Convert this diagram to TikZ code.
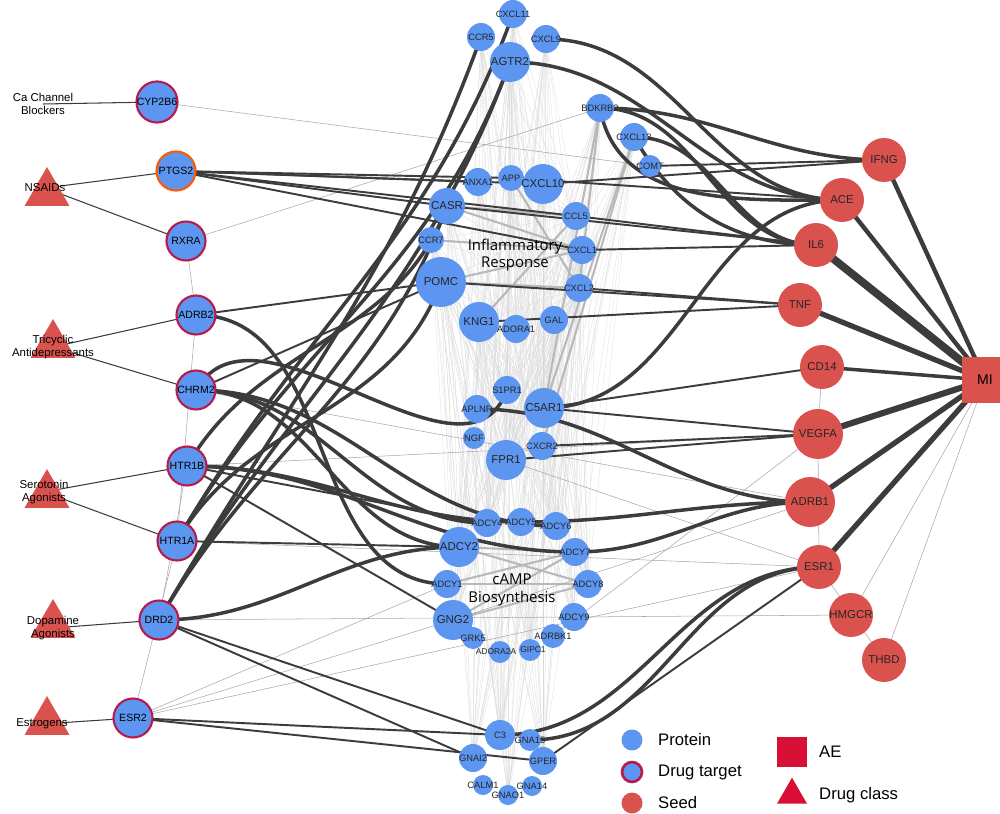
\documentclass[tikz,border=0pt]{standalone}
\usepackage{fontspec}
\setmainfont{Liberation Sans}
\newfontfamily\lblfont{Open Sans}
\usetikzlibrary{shapes.geometric,calc}
\definecolor{prot}{RGB}{92,150,240}
\definecolor{seedred}{RGB}{218,82,78}
\definecolor{tgt}{RGB}{185,25,75}
\definecolor{aered}{RGB}{215,15,55}
\definecolor{edge}{RGB}{60,60,60}
\tikzset{
  pnode/.style={circle,fill=prot,inner sep=0pt},
  ptext/.style={font=\fontsize{5.3}{6}\selectfont,text=black!85,inner sep=0pt},
  tnode/.style={pnode,draw=tgt,line width=1.2pt},
  snode/.style={circle,fill=seedred,inner sep=0pt,font=\fontsize{6.5}{7}\selectfont,text=black!85},
  dclass/.style={isosceles triangle,shape border rotate=90,fill=seedred,isosceles triangle apex angle=60,minimum width=0.9cm,inner sep=0pt},
  dlabel/.style={font=\fontsize{6.5}{7.8}\selectfont,align=center},
  mesh/.style={gray!30,line width=0.15pt},
  lnk/.style={edge,line width=1.1pt},
  thin lnk/.style={gray!70,line width=0.3pt},
  heavy/.style={edge,line width=2pt}
}
\begin{document}
\begin{tikzpicture}[x=0.02cm,y=-0.02cm]
\useasboundingbox (0,0) rectangle (1000,814);
% protein nodes
\foreach \n/\x/\y/\r in {AGTR2/510/62/20,CXCL11/513/14/14,CCR5/481/37/14,CXCL9/546/39/14,BDKRB2/600/108/14,CXCL13/634/137/14,COMT/650/166/11,ANXA1/478/182/14,APP/511/178/13,CXCL10/543/184/20,CASR/447/206/18,CCL5/576/216/14,CCR7/431/240/13,CXCL1/582/250/14,POMC/441/282/25,CXCL2/579/288/14,KNG1/479/322/20,ADORA1/516/329/14,GAL/554/320/14,S1PR1/507/390/14,APLNR/477/409/14,C5AR1/544/408/20,NGF/474/438/11,CXCR2/542/446/14,FPR1/506/460/20,ADCY4/487/523/14,ADCY5/521/522/14,ADCY6/556/526/14,ADCY2/459/547/20,ADCY7/575/552/14,ADCY1/447/584/14,ADCY8/588/584/14,GNG2/453/620/20,ADCY9/574/617/14,GRK5/473/638/11,ADRBK1/553/636/12,ADORA2A/500/652/11,GIPC1/530/650/11,C3/500/735/15,GNA15/530/740/11,GNAI2/473/758/14,GPER/543/761/14,CALM1/483/785/10,GNA14/532/786/10,GNAO1/508/795/10}
  \coordinate (\n) at (\x,\y);
% drug targets
\foreach \n/\x/\y in {CYP2B6/157/102,PTGS2/176/171,RXRA/186/241,ADRB2/196/315,CHRM2/196/390,HTR1B/187/466,HTR1A/177/541,DRD2/159/620,ESR2/133/718}
  \coordinate (\n) at (\x,\y);
% seeds
\foreach \n/\x/\y/\r in {IFNG/884/160/22,ACE/842/200/22,IL6/816/245/22,TNF/800/305/22,CD14/822/367/22,VEGFA/818/434/25,ADRB1/810/502/25,ESR1/819/567/22,HMGCR/851/615/22,THBD/884/660/22}
  \coordinate (\n) at (\x,\y);
\coordinate (MI) at (985,380);
% drug classes
\coordinate (ccb) at (43,104);
\coordinate (nsaid) at (45,188);
\coordinate (tca) at (53,347);
\coordinate (sero) at (44,492);
\coordinate (dopa) at (53,628);
\coordinate (estr) at (42,724);

% background mesh
\foreach \a in {AGTR2,CXCL11,CCR5,CXCL9,BDKRB2,CXCL13,ANXA1,APP,CXCL10,CASR,CCL5,CCR7,CXCL1,POMC,CXCL2,KNG1,GAL}
  \foreach \b in {S1PR1,C5AR1,FPR1,ADCY4,ADCY6,ADCY2,ADCY8,GNG2,ADCY9,GIPC1,C3,GPER,GNAI2,GNAO1,CXCL2,ADORA1,CCL5}
    \draw[mesh] (\a) -- (\b);
\foreach \a/\b in {POMC/CXCL1,POMC/CXCL2,CASR/CCL5,CASR/CXCL1,CCR7/CXCL1,KNG1/CCL5,ADCY2/ADCY7,ADCY2/ADCY8,ADCY1/ADCY8,GNG2/ADCY8,GNG2/ADCY7,ADCY1/ADCY7,APP/CXCL2,BDKRB2/CXCL2,CXCL13/C5AR1,BDKRB2/C5AR1,CXCL13/CXCR2}
  \draw[gray!55,line width=1.2pt] (\a) -- (\b);

% thin long links
\foreach \a/\b in {CYP2B6/COMT,RXRA/BDKRB2,HTR1B/VEGFA,ESR2/GNG2,ESR2/ADCY1,DRD2/ADCY9,FPR1/ESR1,ADRBK1/VEGFA,GNG2/ADRB1,HTR1A/ESR1,ADCY9/HMGCR,ESR2/ESR1,CHRM2/ADRB1,RXRA/ADRB2,ADRB2/HTR1A,HTR1B/DRD2,HTR1A/ESR2,ESR1/THBD,IFNG/MI,CD14/VEGFA,VEGFA/ESR1}
  \draw[thin lnk] (\a) -- (\b);
\draw[thin lnk] (HMGCR) -- (MI);
\draw[thin lnk] (THBD) -- (MI);

% drug class to target
\foreach \a/\b in {ccb/CYP2B6,nsaid/PTGS2,nsaid/RXRA,tca/ADRB2,tca/CHRM2,sero/HTR1B,sero/HTR1A,dopa/DRD2,estr/ESR2}
  \draw[edge,line width=0.6pt] (\a) -- (\b);

% target to protein
\foreach \a/\b in {PTGS2/CASR,PTGS2/CXCL10,PTGS2/CCL5,PTGS2/CXCL1,PTGS2/ANXA1,PTGS2/APP,CHRM2/POMC,HTR1B/ADCY4,HTR1B/GNG2,ADRB2/POMC,HTR1A/ADCY2,DRD2/C3,DRD2/GNAI2,ESR2/C3,ESR2/GPER}
  \draw[lnk] (\a) -- (\b);
\foreach \a/\b in {CHRM2/ADCY4,CHRM2/ADCY2,CHRM2/ADCY6,HTR1B/ADCY5,HTR1B/ADCY7,DRD2/ADCY2,ADRB2/ADCY1}
  \draw[heavy] (\a) to[out=0,in=180] (\b);
\foreach \a/\b in {DRD2/AGTR2,DRD2/CCR5,HTR1A/AGTR2,HTR1A/CXCL11,HTR1B/CASR,CHRM2/S1PR1,DRD2/CASR,HTR1A/POMC}
  \draw[heavy] (\a) to[out=60,in=250] (\b);

% seed to protein
\foreach \a/\b in {IFNG/CXCL10,IFNG/COMT,IL6/CXCL1,IL6/CCL5,IL6/CASR,TNF/POMC,TNF/CXCL2,CD14/C5AR1,VEGFA/FPR1,VEGFA/CXCR2,ESR1/GPER,VEGFA/C5AR1,TNF/KNG1,ACE/APP}
  \draw[lnk] (\a) -- (\b);
\foreach \a/\b in {IFNG/BDKRB2,ACE/AGTR2,ACE/CXCL9,IL6/BDKRB2,ADRB1/ADCY7,ADRB1/ADCY5,ESR1/C3,ESR1/GNA15,IL6/CXCL13,ACE/C5AR1,ADRB1/APLNR}
  \draw[heavy] (\a) to[out=180,in=0] (\b);
\draw[heavy] (CXCL13) to[out=-60,in=180] (IL6);
\draw[heavy] (BDKRB2) to[out=-80,in=180] (ACE);

% MI links
\draw[edge,line width=2.5pt] (IFNG) -- (MI);
\draw[edge,line width=2.5pt] (ACE) -- (MI);
\draw[edge,line width=4.5pt] (IL6) -- (MI);
\draw[edge,line width=3pt] (TNF) -- (MI);
\draw[edge,line width=2pt] (CD14) -- (MI);
\draw[edge,line width=3.5pt] (VEGFA) -- (MI);
\draw[edge,line width=3pt] (ADRB1) -- (MI);
\draw[edge,line width=3pt] (ESR1) -- (MI);

% draw protein nodes on top
\foreach \n/\r in {AGTR2/20,CXCL11/14,CCR5/14,CXCL9/14,BDKRB2/14,CXCL13/14,COMT/11,ANXA1/14,APP/13,CXCL10/20,CASR/18,CCL5/14,CCR7/13,CXCL1/14,POMC/25,CXCL2/14,KNG1/20,ADORA1/14,GAL/14,S1PR1/14,APLNR/14,C5AR1/20,NGF/11,CXCR2/14,FPR1/20,ADCY4/14,ADCY5/14,ADCY6/14,ADCY2/20,ADCY7/14,ADCY1/14,ADCY8/14,GNG2/20,ADCY9/14,GRK5/11,ADRBK1/12,ADORA2A/11,GIPC1/11,C3/15,GNA15/11,GNAI2/14,GPER/14,CALM1/10,GNA14/10,GNAO1/10}
  \node[pnode,minimum size=\r*0.04cm] (n-\n) at (\n) {};
\foreach \n/\r in {AGTR2/20,CXCL10/20,CASR/18,POMC/25,KNG1/20,C5AR1/20,FPR1/20,ADCY2/20,GNG2/20}
  \node[ptext,font=\fontsize{6.5}{7}\selectfont] (x-\n) at (\n) {\n};
\foreach \n in {CXCL11,CCR5,CXCL9,BDKRB2,CXCL13,COMT,ANXA1,APP,CCL5,CCR7,CXCL1,CXCL2,ADORA1,GAL,S1PR1,APLNR,NGF,CXCR2,ADCY4,ADCY5,ADCY6,ADCY7,ADCY1,ADCY8,ADCY9,GRK5,ADRBK1,C3,GNA15,GNAI2,GPER,CALM1,GNA14,GNAO1}
  \node[ptext] (x-\n) at (\n) {\n};
\node[ptext,font=\fontsize{4.8}{5}\selectfont] (x-ADORA2A) at ($(ADORA2A)+(-4,0)$) {ADORA2A};
\node[ptext,font=\fontsize{4.8}{5}\selectfont] (x-GIPC1) at ($(GIPC1)+(3,0)$) {GIPC1};
\foreach \n in {CYP2B6,RXRA,ADRB2,CHRM2,HTR1B,HTR1A,DRD2,ESR2}
  \node[tnode,minimum size=0.78cm,font=\fontsize{6}{7}\selectfont] (n-\n) at (\n) {\n};
\node[tnode,draw=orange!70!red,minimum size=0.78cm,font=\fontsize{6}{7}\selectfont] (n-PTGS2) at (PTGS2) {PTGS2};
\foreach \n/\r in {IFNG/22,ACE/22,IL6/22,TNF/22,CD14/22,VEGFA/25,ADRB1/25,ESR1/22,HMGCR/22,THBD/22}
  \node[snode,minimum size=\r*0.04cm] (n-\n) at (\n) {\n};
\node[fill=seedred,minimum size=0.92cm,inner sep=0pt,font=\fontsize{8}{9}\selectfont] (n-MI) at (MI) {MI};

% cluster labels
\node[font=\lblfont\fontsize{8.5}{10}\selectfont,align=center] (inflam) at (515,255) {Inflammatory\\Response};
\node[font=\lblfont\fontsize{8.5}{10}\selectfont,align=center] (camp) at (512,590) {cAMP\\Biosynthesis};

% drug classes
\foreach \c/\x/\y in {nsaid/47/193,tca/53/345,sero/47/495,dopa/53/625,estr/47/722}
  \node[dclass] (t-\c) at (\x,\y) {};
\node[dlabel] (l-ccb) at (ccb) {Ca Channel\\Blockers};
\node[dlabel] (l-nsaid) at (nsaid) {NSAIDs};
\node[dlabel] (l-tca) at (tca) {Tricyclic\\Antidepressants};
\node[dlabel] (l-sero) at (sero) {Serotonin\\Agonists};
\node[dlabel] (l-dopa) at (dopa) {Dopamine\\Agonists};
\node[dlabel] (l-estr) at (estr) {Estrogens};

% legend
\node[circle,fill=prot,minimum size=0.42cm,inner sep=0pt] (lg1) at (632,740) {};
\node[anchor=west,font=\fontsize{9.5}{11}\selectfont] at (652,740) {Protein};
\node[circle,fill=prot,draw=tgt,line width=1.5pt,minimum size=0.4cm,inner sep=0pt] (lg2) at (632,772) {};
\node[anchor=west,font=\fontsize{9.5}{11}\selectfont] at (652,772) {Drug target};
\node[circle,fill=seedred,minimum size=0.42cm,inner sep=0pt] (lg3) at (632,803) {};
\node[anchor=west,font=\fontsize{9.5}{11}\selectfont] at (652,803) {Seed};
\node[fill=aered,minimum size=0.6cm,inner sep=0pt] (lg4) at (792,752) {};
\node[anchor=west,font=\fontsize{9.5}{11}\selectfont] at (813,752) {AE};
\node[isosceles triangle,shape border rotate=90,isosceles triangle apex angle=60,fill=aered,minimum width=0.6cm,inner sep=0pt] (lg5) at (792,795) {};
\node[anchor=west,font=\fontsize{9.5}{11}\selectfont] at (813,795) {Drug class};
\end{tikzpicture}
\end{document}
